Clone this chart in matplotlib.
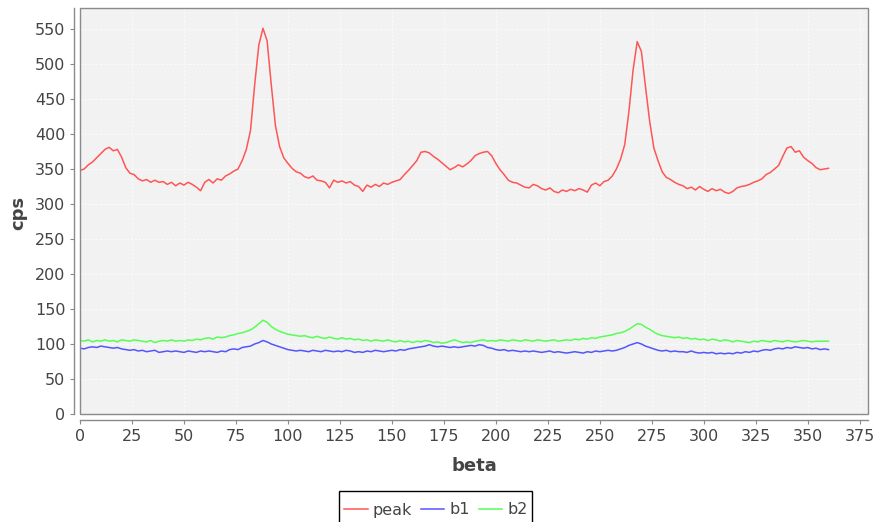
import numpy as np
import matplotlib
matplotlib.use("Agg")
from matplotlib import pyplot as plt
from matplotlib.patches import Rectangle

# angles (deg), sampled every 2 degrees from 0 to 360
beta = np.arange(0, 361, 2)

peak = [348, 350, 356, 360, 366, 372, 378, 381, 376, 378,
        367, 352, 344, 342, 336, 333, 335, 331, 334, 331,
        332, 328, 331, 326, 330, 327, 331, 328, 324, 319,
        331, 335, 330, 336, 334, 340, 343, 347, 350, 362,
        378, 405, 470, 527, 551, 533, 470, 412, 382, 366,
        358, 351, 346, 344, 339, 337, 340, 334, 333, 331,
        323, 334, 331, 333, 330, 332, 327, 325, 318, 327,
        324, 328, 325, 330, 328, 331, 333, 335, 342, 348,
        355, 362, 374, 375, 373, 368, 364, 359, 354, 349,
        352, 356, 353, 357, 362, 369, 372, 374, 375, 369,
        358, 349, 342, 334, 331, 330, 327, 324, 323, 328,
        326, 322, 320, 323, 318, 316, 320, 318, 321, 319,
        322, 320, 317, 327, 330, 326, 332, 334, 340, 350,
        364, 385, 432, 491, 532, 518, 467, 418, 380, 362,
        346, 338, 335, 331, 328, 326, 322, 324, 320, 325,
        321, 318, 322, 319, 321, 317, 315, 318, 323, 325,
        326, 328, 331, 333, 336, 342, 345, 350, 355, 368,
        380, 382, 374, 376, 367, 362, 358, 352, 349, 350,
        351]

b1 = [94, 93, 95, 96, 95, 97, 96, 95, 94, 95,
      93, 92, 91, 92, 90, 91, 89, 90, 91, 88,
      89, 90, 89, 90, 89, 88, 90, 89, 88, 90,
      89, 90, 89, 88, 90, 89, 92, 93, 92, 95,
      96, 97, 100, 102, 105, 103, 100, 98, 96, 94,
      92, 91, 90, 91, 90, 89, 91, 90, 89, 91,
      90, 89, 90, 89, 91, 90, 88, 89, 88, 90,
      89, 91, 90, 89, 90, 91, 90, 92, 91, 93,
      94, 95, 96, 97, 99, 97, 96, 97, 96, 95,
      96, 95, 96, 97, 98, 97, 99, 98, 95, 94,
      92, 91, 92, 90, 91, 90, 89, 90, 89, 90,
      89, 88, 89, 90, 88, 89, 88, 87, 88, 89,
      88, 87, 89, 88, 90, 89, 90, 91, 90, 91,
      93, 95, 98, 100, 102, 100, 97, 95, 93, 91,
      90, 91, 89, 90, 89, 89, 88, 90, 88, 87,
      88, 87, 88, 86, 87, 86, 87, 86, 88, 87,
      89, 88, 90, 89, 91, 92, 91, 93, 94, 93,
      95, 94, 96, 95, 94, 95, 93, 94, 92, 93,
      92]

b2 = [105, 104, 106, 103, 105, 104, 106, 104, 105, 103,
      106, 105, 104, 106, 105, 104, 103, 105, 102, 104,
      105, 104, 106, 104, 105, 104, 106, 105, 107, 106,
      108, 109, 107, 110, 109, 110, 112, 113, 115, 116,
      118, 120, 124, 129, 134, 131, 125, 121, 118, 116,
      114, 113, 112, 111, 112, 110, 109, 111, 109, 108,
      110, 108, 107, 109, 107, 108, 106, 107, 105, 106,
      104, 106, 105, 104, 106, 104, 103, 105, 103, 104,
      102, 104, 103, 105, 104, 102, 103, 101, 102, 104,
      106, 104, 102, 103, 102, 104, 105, 106, 104, 105,
      104, 106, 105, 104, 106, 105, 104, 106, 105, 104,
      106, 105, 104, 105, 106, 104, 105, 106, 105, 107,
      106, 108, 107, 109, 108, 110, 111, 112, 113, 115,
      116, 118, 121, 125, 129, 128, 124, 121, 117, 114,
      112, 111, 110, 109, 110, 108, 109, 107, 108, 106,
      107, 105, 107, 106, 104, 106, 105, 103, 105, 104,
      103, 102, 104, 103, 105, 104, 103, 105, 104, 103,
      105, 104, 103, 104, 105, 104, 103, 104, 104, 104,
      104]

series_names = ["peak", "b1", "b2"]
series_colors = ["#ff5555", "#5555ff", "#55ff55"]

W, H = 877, 522
fig = plt.figure(figsize=(W / 100, H / 100), dpi=100)
ax = fig.add_axes([80 / W, 1 - 414 / H, 788 / W, 406 / H])
ax.set_facecolor("#f2f2f2")

for vals, name, col in zip([peak, b1, b2], series_names, series_colors):
    ax.plot(beta, vals, color=col, lw=1.1, label=name)

ax.set_xlim(0, 379)
ax.set_ylim(0, 580)
ax.set_xticks(np.arange(0, 376, 25))
ax.set_yticks(np.arange(0, 551, 50))

# faint dotted grid like JFreeChart
ax.grid(True, color="#fcfcfc", linestyle=(0, (2, 2)), lw=0.7)
ax.set_axisbelow(True)

# plot border + offset axes
ax.add_patch(Rectangle((0, 0), 1, 1, transform=ax.transAxes, fill=False,
                       edgecolor="#8a8a8a", lw=1.0, clip_on=False, zorder=5))
for s in ["top", "right"]:
    ax.spines[s].set_visible(False)
for s in ["left", "bottom"]:
    ax.spines[s].set_position(("outward", 4.5))
    ax.spines[s].set_color("#8a8a8a")
    ax.spines[s].set_linewidth(1.0)

ax.tick_params(axis="both", direction="out", length=3, width=0.8,
               color="#8a8a8a", labelcolor="#444444", labelsize=11.5, pad=3)

fig.text(18 / W, 1 - 213 / H, "cps", rotation=90, ha="center", va="center",
         fontsize=13, fontweight="bold", color="#444444")
fig.text(474 / W, 1 - 466 / H, "beta", ha="center", va="center",
         fontsize=13, fontweight="bold", color="#444444")

# legend without frame, box drawn separately (runs off the bottom edge)
leg = fig.legend(loc="center", bbox_to_anchor=(436 / W, 1 - 510 / H),
                 ncol=3, frameon=False, fontsize=11.5,
                 handlelength=1.45, handletextpad=0.3, columnspacing=0.6,
                 borderpad=0, borderaxespad=0)
for t in leg.get_texts():
    t.set_color("#444444")
fig.add_artist(Rectangle((339 / W, -0.02), 193 / W, 0.02 + 1 - 491 / H,
                         transform=fig.transFigure, fill=False,
                         edgecolor="black", lw=1.0, clip_on=False))

fig.savefig("out.png", dpi=100)
